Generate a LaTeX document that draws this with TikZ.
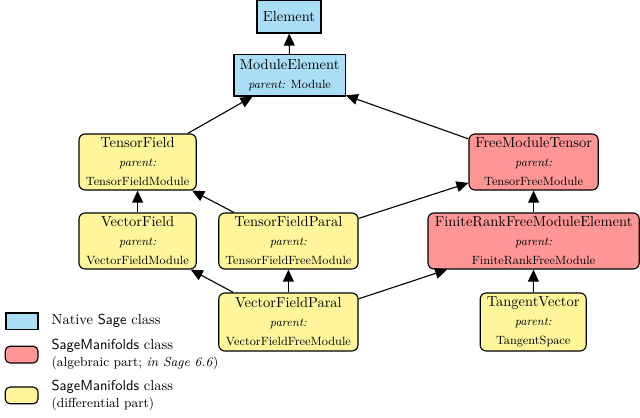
\documentclass[tikz,border=0pt]{standalone}
\usepackage{amssymb,amsmath}
\usepackage{tikz}
\usetikzlibrary{arrows.meta}

\definecolor{nativeblue}{RGB}{170,221,246}
\definecolor{algred}{RGB}{255,150,150}
\definecolor{diffyellow}{RGB}{255,245,155}

\newcommand{\parsize}{\fontsize{8.5}{10}\selectfont}
\newcommand{\legsize}{\fontsize{9.3}{11}\selectfont}

\begin{document}
\begin{tikzpicture}[
    font=\fontsize{10.3}{12.5}\selectfont,
    native/.style={draw, thick, fill=nativeblue, align=center, inner sep=2pt},
    alg/.style={draw, thick, fill=algred, rounded corners=1.5mm, align=center, minimum height=1.4cm, inner sep=2pt},
    diff/.style={draw, thick, fill=diffyellow, rounded corners=1.5mm, align=center, minimum height=1.4cm, inner sep=2pt},
    isa/.style={->, thick, >={Triangle[length=3mm,width=2.7mm]}},
    legtext/.style={anchor=west, align=left, inner sep=1pt}
  ]
  \useasboundingbox (0,0) rectangle (16,10.425);

  % classes
  \node[native, minimum width=1.6cm, minimum height=0.82cm] (el) at (7.225,10.01) {Element};
  \node[native, minimum width=2.78cm, minimum height=1.03cm] (me) at (7.24,8.54)
    {ModuleElement\\[1pt] {\parsize\textit{parent:} Module}};

  \node[diff, minimum width=2.93cm] (tf) at (3.44,6.375)
    {TensorField\\[1pt] {\parsize\textit{parent:}}\\[1pt] {\parsize TensorFieldModule}};
  \node[alg, minimum width=3.23cm] (fmt) at (13.34,6.375)
    {FreeModuleTensor\\[1pt] {\parsize\textit{parent:}}\\[1pt] {\parsize TensorFreeModule}};

  \node[diff, minimum width=2.93cm] (vf) at (3.44,4.4)
    {VectorField\\[1pt] {\parsize\textit{parent:}}\\[1pt] {\parsize VectorFieldModule}};
  \node[diff, minimum width=3.48cm] (tfp) at (7.21,4.4)
    {TensorFieldParal\\[1pt] {\parsize\textit{parent:}}\\[1pt] {\parsize TensorFieldFreeModule}};
  \node[alg, minimum width=5.28cm] (frfme) at (13.34,4.4)
    {FiniteRankFreeModuleElement\\[1pt] {\parsize\textit{parent:}}\\[1pt] {\parsize FiniteRankFreeModule}};

  \node[diff, minimum width=3.48cm, minimum height=1.45cm] (vfp) at (7.21,2.375)
    {VectorFieldParal\\[1pt] {\parsize\textit{parent:}}\\[1pt] {\parsize VectorFieldFreeModule}};
  \node[diff, minimum width=2.65cm, minimum height=1.45cm] (tv) at (13.33,2.375)
    {TangentVector\\[1pt] {\parsize\textit{parent:}}\\[1pt] {\parsize TangentSpace}};

  % inheritance
  \draw[isa] (me) -- (el);
  \draw[isa] (tf) -- (me);
  \draw[isa] (fmt) -- (me);
  \draw[isa] (vf) -- (tf);
  \draw[isa] (tfp) -- (tf);
  \draw[isa] (tfp) -- (fmt);
  \draw[isa] (frfme) -- (fmt);
  \draw[isa] (vfp) -- (vf);
  \draw[isa] (vfp) -- (tfp);
  \draw[isa] (vfp) -- (frfme);
  \draw[isa] (tv) -- (frfme);

  % legend
  \node[native, minimum width=0.8cm, minimum height=0.42cm] (lnative) at (0.55,2.39) {};
  \node[alg, minimum width=0.82cm, minimum height=0.42cm, rounded corners=1.2mm] (lalg) at (0.54,1.56) {};
  \node[diff, minimum width=0.82cm, minimum height=0.42cm, rounded corners=1.2mm] (ldiff) at (0.54,0.54) {};

  \node[legtext] (tnative) at (1.25,2.4) {Native \textsf{Sage} class};
  \node[legtext] (talg) at (1.25,1.56)
    {\textsf{SageManifolds} class\\ {\legsize (algebraic part; \textit{in Sage 6.6})}};
  \node[legtext] (tdiff) at (1.25,0.54)
    {\textsf{SageManifolds} class\\ {\legsize (differential part)}};
\end{tikzpicture}
\end{document}
